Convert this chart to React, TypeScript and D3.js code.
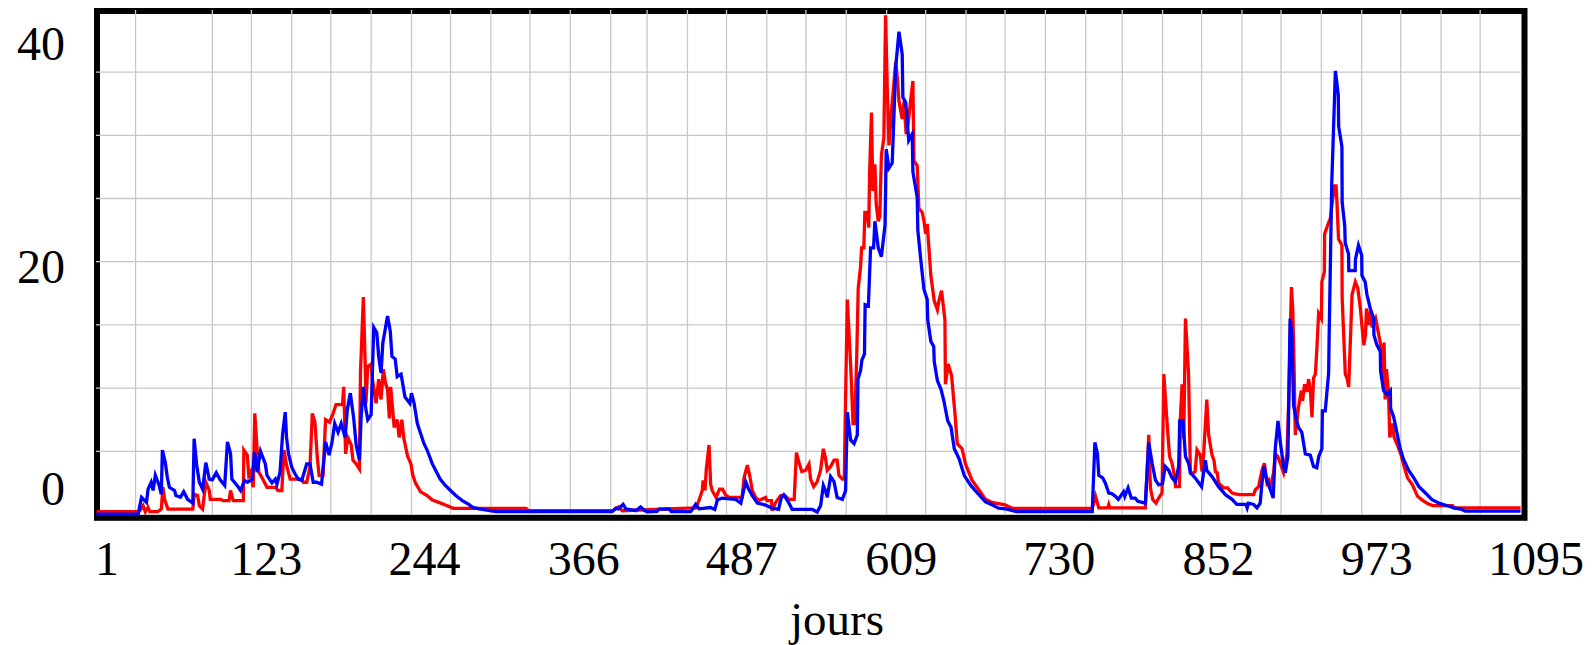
import React from "react";
import * as d3 from "d3";

// values (day, value)
const redSeries: [number, number][] = [
  [1, 0.22], [33, 0.22], [34.3, 0.3], [36.8, 0.7], [38.5, 0.22], [40.6, 0.56], [42, 0.22], [48, 0.22],
  [50.8, 0.43], [52, 2.15], [53.3, 1.2], [55.9, 0.43], [75, 0.43], [76, 1.6], [78.7, 1.5], [80, 0.7],
  [82.5, 0.43], [85, 2.55], [87.6, 1.9], [88.4, 1.2], [96.5, 1.2], [98, 1.1], [102.8, 1.1], [104, 1.9],
  [106, 1.1], [113.8, 1.1], [114.2, 5.1], [116.8, 4.7], [118, 3.1], [119.3, 3.35], [121.4, 2.15],
  [122.6, 8.0], [124.4, 5.1], [125.7, 3.35], [128, 2.95], [132, 2.15], [138.4, 2.15], [140.4, 1.9],
  [143.4, 1.9], [145, 5.1], [147, 3.9], [149.8, 2.8], [158.7, 2.8], [160, 2.55], [162.5, 2.55],
  [165, 3.75], [166.8, 8.0], [168.8, 7.3], [170.6, 4.55], [172, 3.1], [175, 3.1], [177, 7.5], [180, 7.3],
  [182.8, 8.0], [185, 8.7], [190, 8.7], [190.9, 10.1], [192.4, 4.8], [194, 6.1], [196.7, 5.5], [198, 4.3],
  [200.5, 4.0], [203, 3.6], [203.8, 11.2], [206, 17.2], [207.6, 11.2], [208, 8.8], [209.4, 11.7],
  [212, 11.9], [213, 10.7], [215.8, 8.8], [217.8, 10.7], [219.6, 9.1], [221.4, 11.5], [223, 10.4],
  [224.6, 9.9], [226, 7.6], [227, 10.1], [229.7, 6.9], [232, 7.5], [233.5, 6.1], [235.6, 7.5], [237, 6.1],
  [240, 4.6], [242.6, 4.0], [243.8, 3.2], [246, 2.5], [250, 1.8], [255, 1.5], [259, 1.14], [264, 0.96],
  [270, 0.72], [275, 0.49], [331, 0.49], [333, 0.3], [398, 0.3], [402, 0.6], [405, 0.3], [454.9, 0.5],
  [461.3, 0.5], [463.8, 1.1], [466.4, 1.9], [467, 2.7], [468.5, 1.9], [469.5, 3.6], [471.6, 5.5],
  [472.8, 2.4], [474, 1.9], [477, 1.35], [479.6, 2.0], [482, 2.0], [484.3, 1.55], [486.9, 1.35],
  [497, 1.35], [498.5, 2.9], [501, 3.9], [502.8, 3.1], [504.8, 1.9], [507.4, 1.35], [510, 1.1],
  [515, 1.35], [516, 1.1], [519.5, 1.1], [520, 0.3], [522.7, 0.95], [526.6, 1.5], [530, 1.5], [533, 1.2],
  [537, 1.2], [538.7, 4.9], [540.8, 4.1], [542.8, 3.4], [545.8, 3.5], [548.4, 4.0], [549.6, 2.8],
  [552, 2.2], [554.7, 2.6], [557.3, 3.5], [559.4, 5.2], [561, 4.5], [562.4, 3.5], [565, 3.8],
  [567.6, 4.3], [570, 4.3], [571.4, 3.1], [574, 2.8], [575.5, 2.8], [576, 6.3], [577.8, 17.0],
  [580.4, 11.8], [582.2, 7.2], [583.5, 7.2], [585, 12.3], [586.2, 17.9], [588, 19.6], [588.8, 21.1],
  [590.5, 21.1], [591.3, 23.9], [593, 23.9], [594.3, 22.7], [594.9, 26.9], [596.4, 31.8], [597.4, 25.6],
  [599, 27.7], [600, 24.6], [601.6, 23.2], [602.8, 23.6], [604, 28.4], [605.9, 29.8], [607.2, 39.5],
  [608.5, 33.8], [609.8, 29.2], [611.8, 32.0], [615, 35.8], [616.2, 34.6], [617.5, 32.7], [620, 31.3],
  [621.4, 32.7], [623, 30.1], [624.5, 30.9], [626.4, 32.7], [628.2, 34.3], [629, 28.0], [631.5, 27.6],
  [632.8, 24.2], [635.4, 23.9], [636.7, 23.2], [638, 22.2], [639.2, 23.0], [642, 18.9], [644.6, 16.9],
  [647, 16.2], [648.2, 16.9], [650.2, 17.7], [652.8, 15.4], [653.2, 10.3], [655.3, 11.9], [657.9, 11.0],
  [660.5, 8.0], [662.3, 5.6], [666, 5.2], [668.6, 4.0], [673.7, 2.7], [679, 1.94], [684, 1.2],
  [689, 0.95], [699, 0.76], [704.5, 0.49], [766, 0.49], [768.5, 1.44], [771, 0.52], [778, 0.52],
  [778.7, 0.78], [779.5, 0.52], [806.8, 0.52], [809.4, 6.3], [810.7, 2.1], [812.5, 1.17], [815, 0.9],
  [817, 1.3], [819.6, 1.7], [821, 11.1], [823.5, 7.2], [825.4, 4.6], [827.3, 4.05], [828.7, 3.3],
  [830, 2.2], [833, 2.2], [833.7, 7.6], [835, 10.3], [836.3, 6.0], [837.6, 15.5], [840, 11.1],
  [841.4, 3.3], [844, 3.3], [845, 3.4], [846.5, 5.1], [849, 4.7], [850.3, 3.4], [851.6, 4.8], [854, 9.1],
  [855.4, 6.3], [858, 4.7], [859.5, 4.3], [860.6, 3.4], [862, 3.3], [863, 2.5], [867, 2.1], [870, 2.1],
  [873.4, 1.7], [878.5, 1.57], [890, 1.57], [891.3, 1.96], [893.8, 2.2], [896.4, 3.5], [898.2, 4.05],
  [900.2, 2.5], [901.5, 2.7], [902.8, 2.1], [904, 2.7], [905.3, 3.3], [906.6, 4.8], [908.5, 4.6],
  [910.5, 4.05], [913, 3.3], [915.6, 4.8], [916.9, 8.9], [919, 18.0], [920, 16.3], [920.9, 12.4],
  [922, 6.3], [924.5, 8.5], [926.6, 9.8], [927.6, 9.0], [929.1, 10.3], [931, 9.7], [932.2, 10.7],
  [933.5, 9.9], [934.8, 7.7], [936, 10.8], [937.4, 11.1], [938.6, 13.2], [939.9, 15.9], [942, 15.5],
  [942.4, 18.4], [944.3, 19.2], [944.5, 22.2], [947.6, 23.1], [948.9, 23.4], [950, 24.4], [952.2, 26.0],
  [953.3, 26.0], [953.9, 24.9], [955.2, 21.8], [957.8, 21.3], [958, 17.1], [960.4, 11.1], [961.7, 10.8],
  [963, 10.1], [965.6, 17.4], [968.1, 18.4], [970, 17.9], [972, 16.3], [973.3, 14.8], [974.6, 13.4],
  [975.9, 14.2], [976.7, 16.3], [978.5, 15.0], [979.8, 16.1], [981, 14.8], [983.7, 15.5], [985, 14.8],
  [987.6, 13.4], [988.3, 10.7], [990.2, 13.6], [991, 9.1], [992, 11.5], [993.5, 9.8], [994.6, 6.1],
  [996.5, 7.2], [997.9, 6.1], [1000.4, 5.5], [1003, 4.8], [1005.6, 3.8], [1008.2, 2.9], [1012, 2.35],
  [1015.9, 1.44], [1019.8, 1.12], [1023.6, 0.86], [1027.5, 0.7], [1042.8, 0.7], [1044, 0.52], [1095, 0.52],
];

const blueSeries: [number, number][] = [
  [1, 0.02], [33, 0.02], [35.6, 1.36], [39.4, 0.96], [40.6, 2.0], [43, 2.55], [44.5, 1.9], [46.2, 3.1],
  [48.8, 2.4], [50.8, 1.6], [51.6, 5.1], [53.8, 4.15], [55.4, 2.95], [57, 2.15], [61, 1.9], [62, 1.5],
  [65.5, 1.36], [68, 1.8], [71, 1.2], [75, 0.9], [76, 6.0], [78, 3.9], [80, 2.55], [82.5, 2.0], [85, 4.1],
  [87.6, 2.8], [90, 2.74], [93, 3.3], [96, 2.74], [99.5, 2.3], [101.6, 5.75], [104, 4.8], [105, 2.8],
  [109, 2.3], [111.7, 1.9], [114.8, 2.7], [117, 2.55], [120.6, 2.8], [122.4, 4.95], [124.4, 3.35],
  [127, 5.0], [130.7, 4.0], [132, 3.1], [135.8, 2.5], [138.4, 2.8], [139.6, 2.4], [142, 3.35], [144, 6.4],
  [146, 8.1], [147, 6.1], [148.5, 4.8], [151, 3.75], [153.6, 3.2], [156, 2.8], [158.7, 2.7], [162.5, 4.0],
  [165, 4.0], [167.5, 2.55], [170, 2.55], [173.9, 2.4], [177, 5.75], [179.7, 4.7], [182, 5.75], [184, 7.2],
  [186.6, 6.5], [189, 7.2], [192, 6.1], [193.7, 8.3], [196, 9.6], [198.5, 7.7], [200.5, 5.5], [203, 4.3],
  [204.3, 7.7], [206, 10.1], [208, 8.3], [209.4, 7.5], [212, 7.9], [214, 14.8], [216.3, 14.4],
  [217.8, 12.5], [219.6, 11.2], [221, 13.6], [224.6, 15.7], [226.7, 14.5], [228, 12.5], [230.5, 12.3],
  [232, 10.9], [235, 11.1], [238, 9.3], [241.7, 8.8], [243, 9.6], [245, 8.8], [247.5, 7.2], [250, 6.4],
  [252.6, 5.6], [255, 5.1], [259, 4.0], [261.5, 3.5], [265, 2.8], [269, 2.3], [273, 1.9], [277, 1.5],
  [282, 1.1], [287, 0.8], [290, 0.56], [295, 0.45], [308, 0.22], [397, 0.22], [400, 0.5], [402, 0.45],
  [405.6, 0.8], [407.6, 0.45], [415.3, 0.3], [419, 0.6], [421.6, 0.35], [424, 0.22], [431.6, 0.25],
  [433, 0.42], [441, 0.45], [442.6, 0.22], [457.5, 0.22], [461.3, 0.8], [464, 0.45], [472.6, 0.55],
  [476, 0.4], [478, 1.15], [481.6, 1.3], [492, 1.2], [496, 0.9], [499.7, 2.6], [501.6, 2.1], [504.8, 1.5],
  [508.7, 0.9], [515, 0.75], [520, 0.5], [525, 0.4], [527, 1.3], [529, 1.55], [533, 0.9], [535.5, 0.4],
  [551, 0.4], [554.7, 0.2], [557.3, 0.7], [559.4, 2.3], [561, 1.9], [562.4, 1.35], [565, 3.0],
  [567.6, 2.6], [570, 1.35], [574, 1.2], [576.5, 1.9], [577.8, 8.1], [580.4, 5.9], [583, 5.6],
  [585.5, 6.3], [586, 10.7], [588, 11.4], [589, 12.2], [591, 12.7], [591.5, 16.6], [594, 16.5],
  [595.7, 21.1], [598, 21.1], [599, 23.2], [601.6, 21.1], [604, 20.4], [606.8, 22.9], [607.7, 28.9],
  [609.8, 27.4], [612.3, 27.8], [615, 35.4], [617.5, 38.2], [620, 36.4], [620.5, 33], [622.7, 32.6],
  [625, 29.6], [627.7, 30.1], [628.2, 27.1], [631.5, 25.1], [632, 22.5], [634, 20.4], [636.7, 17.8],
  [639.2, 17.0], [639.6, 15.4], [642, 13.7], [644.2, 13.3], [644.6, 12.1], [647, 10.6], [649.8, 9.9],
  [652, 9.0], [655, 7.4], [657.5, 6.9], [660, 5.2], [663.7, 4.4], [667.6, 3.1], [672.7, 2.3],
  [677.7, 1.7], [684, 1.0], [689, 0.77], [694, 0.5], [699.4, 0.45], [708, 0.22], [766, 0.22], [768, 5.7],
  [770, 4.8], [771, 3.1], [774, 2.9], [776, 2.5], [778.7, 1.7], [781, 1.65], [783.8, 1.44], [786, 1.2],
  [790, 1.8], [791, 1.44], [793.5, 2.1], [796, 1.3], [799, 1.3], [801, 1.04], [806.8, 0.9], [809.4, 5.7],
  [812, 4.05], [814.5, 2.74], [817, 2.35], [820, 2.45], [822, 3.8], [824.7, 3.5], [827.3, 2.9],
  [829.9, 2.6], [832.4, 3.8], [833.2, 7.4], [835.7, 7.4], [837.6, 4.6], [840, 4.05], [841.4, 3.3],
  [845, 2.9], [850, 2.2], [852.9, 4.3], [854, 3.5], [858, 3.0], [863, 2.2], [868.3, 1.57], [873.4, 1.2],
  [877, 0.8], [884, 0.8], [885, 0.52], [886, 0.9], [890, 0.8], [892.5, 0.52], [895, 0.9], [896.4, 2.5],
  [898, 3.8], [900, 2.74], [902.8, 1.96], [905, 1.3], [906.7, 5.35], [908.7, 7.4], [910.5, 5.7],
  [913, 3.8], [914.3, 3.3], [916.3, 4.6], [918, 15.5], [919.3, 14.2], [920.7, 8.6], [923, 7.4],
  [924.5, 6.9], [927, 6.5], [928.4, 5.6], [929.7, 4.8], [933.5, 4.7], [936, 3.8], [938.5, 3.7],
  [940, 4.6], [942.4, 5.2], [942.8, 8.2], [945, 8.2], [947.6, 11.2], [948, 14.2], [950, 26.2],
  [952.8, 35.1], [955, 33.2], [955.3, 30.7], [957.8, 29.1], [958, 24.7], [960, 22.8], [960.3, 21.5],
  [962.9, 20.6], [963.1, 19.3], [968, 19.3], [968.2, 20.2], [970.5, 21.3], [973, 20.5], [973.2, 18.9],
  [975.7, 18.4], [977, 17.4], [979.6, 16.3], [982.2, 15.5], [982.4, 14.2], [984.7, 13.4], [987.3, 12.9],
  [987.5, 11.4], [989.8, 9.8], [992.4, 9.5], [995, 9.8], [995.2, 8.4], [997.6, 7.7], [1000, 6.5],
  [1002.6, 5.2], [1005, 4.4], [1009, 3.5], [1013, 2.9], [1017, 2.2], [1022, 1.7], [1027, 1.17],
  [1033.4, 0.86], [1040, 0.65], [1043.7, 0.52], [1050, 0.4], [1052.5, 0.26], [1095, 0.26],
];

const xTickLabels = [1, 123, 244, 366, 487, 609, 730, 852, 973, 1095];
const yTickLabels = [0, 20, 40];
const yGridValues = [5, 10, 15, 20, 25, 30, 35];
// month boundaries (the first February line is not drawn in the original)
const xGridDays = [
  31, 90, 120, 151, 181, 212, 243, 273, 304, 334, 365,
  396, 424, 455, 485, 516, 546, 577, 608, 638, 669, 699, 730,
  761, 789, 820, 850, 881, 911, 942, 973, 1003, 1034, 1064,
];

const W = 1592;
const H = 645;
const FONT = "'Liberation Serif', 'Times New Roman', serif";

export default function App() {
  const x = d3.scaleLinear().domain([1, 1095]).range([96.5, 1520.5]);
  const y = d3.scaleLinear().domain([0, 40]).range([514.5, 8.9]);
  // tick labels sit a little to the right of their day positions
  const xLabel = d3.scaleLinear().domain([1, 1095]).range([107, 1536]);

  const line = d3
    .line<[number, number]>()
    .x((d) => x(d[0]))
    .y((d) => y(d[1]));

  const frame = { left: 97, top: 11, right: 1524.5, bottom: 517.8 };

  return (
    <svg
      width={W}
      height={H}
      style={{ position: "absolute", left: 0, top: 0, display: "block", background: "#fff" }}
    >
      <rect
        x={frame.left}
        y={frame.top}
        width={frame.right - frame.left}
        height={frame.bottom - frame.top}
        fill="#fff"
        stroke="#000"
        strokeWidth={6}
      />

      {/* grid */}
      <g stroke="#c8c8c8" strokeWidth={1.3}>
        {yGridValues.map((v) => (
          <line key={"h" + v} x1={96} x2={1521.5} y1={y(v)} y2={y(v)} />
        ))}
        {xGridDays.map((d) => (
          <line key={"v" + d} x1={x(d)} x2={x(d)} y1={10} y2={514.8} />
        ))}
      </g>

      <path d={line(redSeries) ?? ""} fill="none" stroke="#ff0000" strokeWidth={3.3} strokeLinejoin="miter" />
      <path d={line(blueSeries) ?? ""} fill="none" stroke="#0000ff" strokeWidth={3.3} strokeLinejoin="miter" />

      {/* y labels, kept inside the frame height */}
      {yTickLabels.map((v) => (
        <text
          key={"yl" + v}
          x={65}
          y={Math.min(Math.max(y(v) + 21, 60), 505)}
          textAnchor="end"
          fontFamily={FONT}
          fontSize={48}
          fill="#000"
        >
          {v}
        </text>
      ))}

      {xTickLabels.map((v) => (
        <text
          key={"xl" + v}
          x={xLabel(v)}
          y={575}
          textAnchor="middle"
          fontFamily={FONT}
          fontSize={48}
          fill="#000"
        >
          {v}
        </text>
      ))}

      <text x={837} y={635} textAnchor="middle" fontFamily={FONT} fontSize={47} fill="#000">
        jours
      </text>
    </svg>
  );
}
